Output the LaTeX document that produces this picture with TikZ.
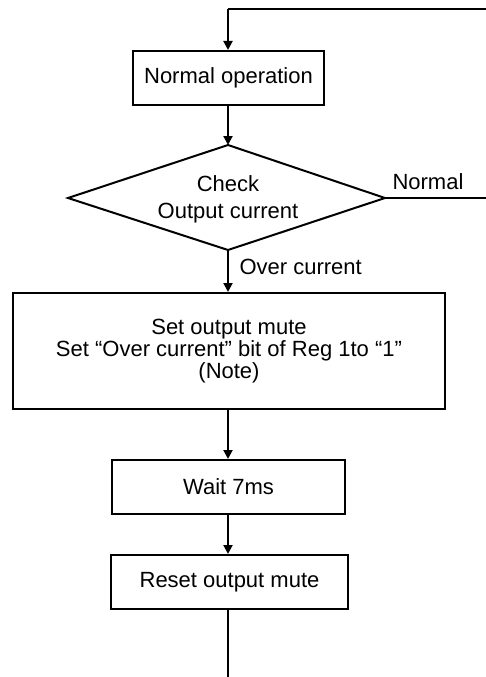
\documentclass[tikz,border=0pt]{standalone}
\usepackage{fontspec}
\setmainfont{Liberation Sans}
\usetikzlibrary{arrows.meta}
\begin{document}
\begin{tikzpicture}[x=1pt,y=-1pt,
  every node/.style={font=\fontsize{22}{22}\selectfont},
  procbox/.style={draw,line width=2pt,rectangle,inner sep=0pt,align=center},
  flow/.style={line width=2pt,-{Triangle[width=9pt,length=9pt]}},
  plain/.style={line width=2pt}]
\useasboundingbox (0,0) rectangle (486,677);
\coordinate (loopin) at (486,9);
\coordinate (loopcorner) at (228,9);
\node[procbox,minimum width=191pt,minimum height=54pt] (normalop) at (228.5,78) {Normal operation};
% decision diamond
\coordinate (dtop) at (228,145);
\coordinate (dright) at (385,198);
\coordinate (dbottom) at (228,250);
\coordinate (dleft) at (68,198);
\draw[line width=2pt,line join=miter] (dtop) -- (dright) -- (dbottom) -- (dleft) -- cycle;
\node[align=center] (check) at (228,199) {Check\\[5pt]Output current};
\node[procbox,minimum width=432pt,minimum height=116pt] (mute) at (229,351) {Set output mute\\Set “Over current” bit of Reg 1to “1”\\(Note)};
\node[procbox,minimum width=233pt,minimum height=54pt] (wait) at (228.5,487) {Wait 7ms};
\node[procbox,minimum width=237pt,minimum height=54pt] (reset) at (229.5,582) {Reset output mute};
\coordinate (normalout) at (495,198);
\coordinate (bottomout) at (228,680);

\draw[plain] (loopin) -- (loopcorner);
\draw[flow] (loopcorner) -- (normalop.north -| loopcorner);
\draw[flow] (normalop.south -| loopcorner) -- (dtop);
\draw[flow] (dright) -- (normalout);
\node[anchor=west] (normallbl) at (389,182) {Normal};
\draw[flow] (dbottom) -- (mute.north -| loopcorner);
\node[anchor=west] (overlbl) at (236,267) {Over current};
\draw[flow] (mute.south -| loopcorner) -- (wait.north -| loopcorner);
\draw[flow] (wait.south -| loopcorner) -- (reset.north -| loopcorner);
\draw[plain] (reset.south -| loopcorner) -- (bottomout);
\end{tikzpicture}
\end{document}
